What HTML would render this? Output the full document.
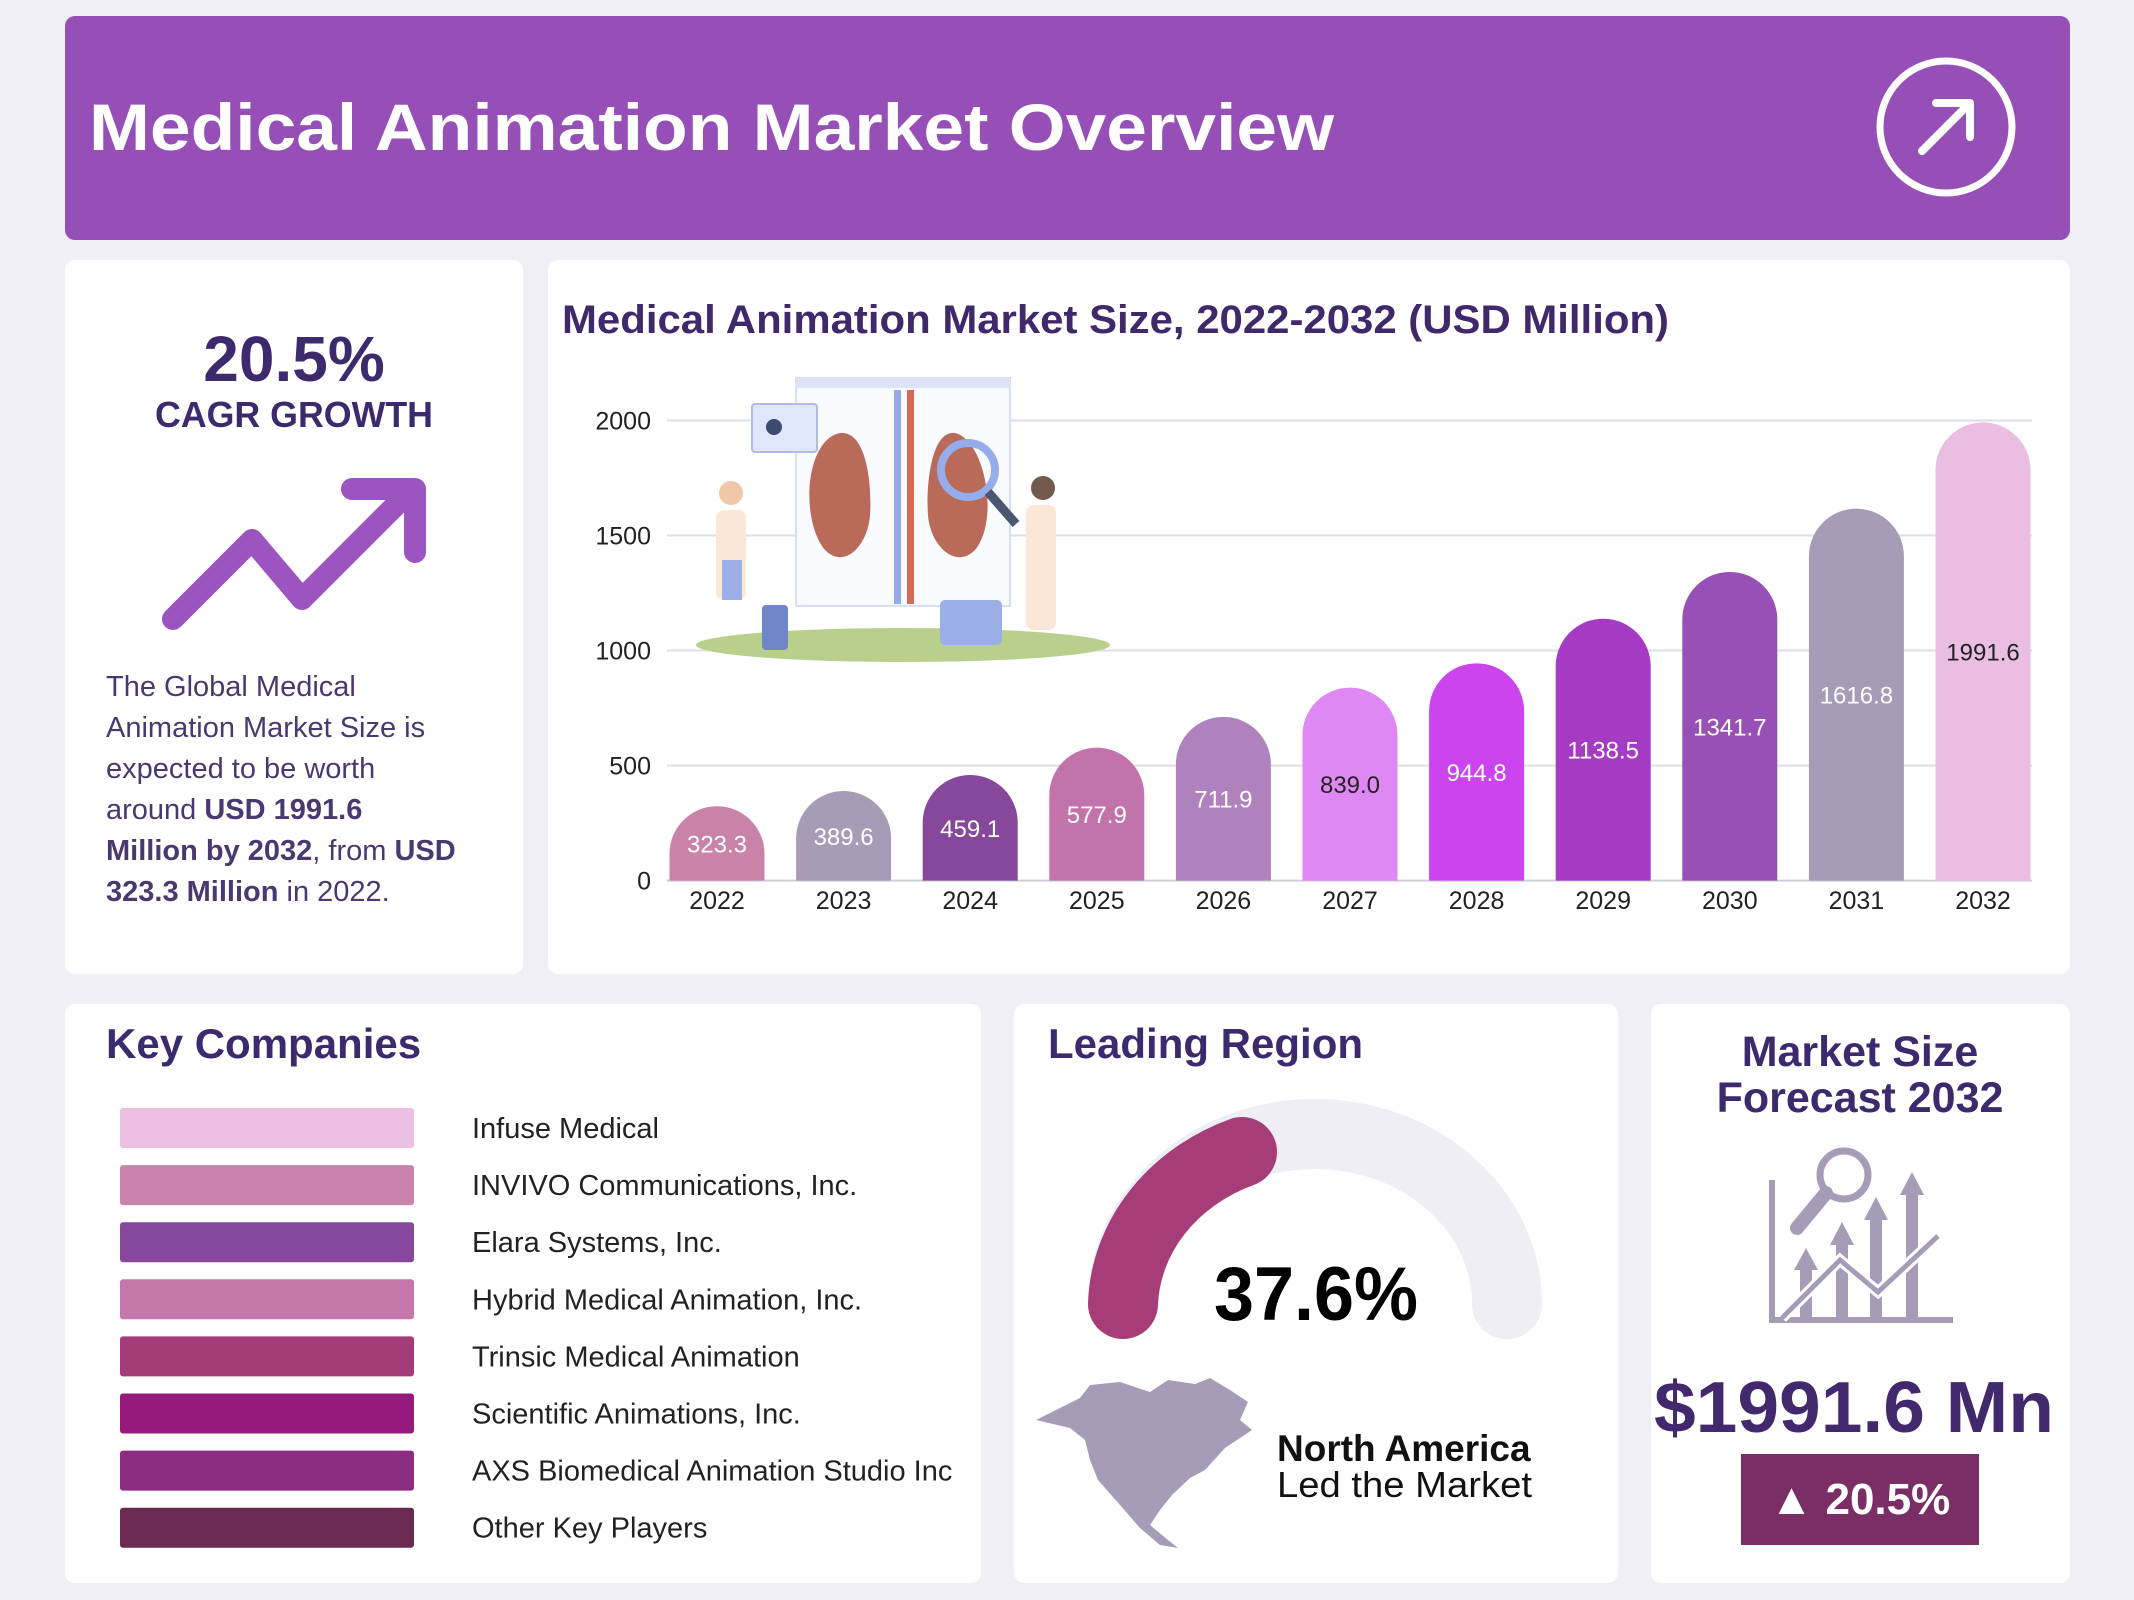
<!DOCTYPE html>
<html><head><meta charset="utf-8"><style>
html,body{margin:0;padding:0;background:#f0eff5;}
svg{display:block;font-family:"Liberation Sans",sans-serif;}
</style></head><body>
<svg id="page" width="2134" height="1600" viewBox="0 0 2134 1600">
<rect x="0" y="0" width="2134" height="1600" fill="#f0eff5"/>
<!-- header -->
<rect x="65" y="16" width="2005" height="224" rx="10" fill="#954fb6"/>
<text x="89" y="150" font-size="66" font-weight="bold" fill="#fff" textLength="1245" lengthAdjust="spacingAndGlyphs">Medical Animation Market Overview</text>
<g>
<circle cx="1946" cy="127" r="66" fill="none" stroke="#fff" stroke-width="7"/>
<path d="M1922 151 L1970 103 M1936 103 L1970 103 L1970 137" fill="none" stroke="#fff" stroke-width="8" stroke-linecap="round" stroke-linejoin="round"/>
</g>
<!-- panels -->
<rect x="65" y="260" width="458" height="714" rx="10" fill="#fff"/>
<rect x="548" y="260" width="1522" height="714" rx="10" fill="#fff"/>
<rect x="65" y="1004" width="916" height="579" rx="10" fill="#fff"/>
<rect x="1014" y="1004" width="604" height="579" rx="10" fill="#fff"/>
<rect x="1651" y="1004" width="419" height="579" rx="10" fill="#fff"/>

<!-- CAGR panel -->
<text x="294" y="381" font-size="64" font-weight="bold" fill="#3d2a6e" text-anchor="middle">20.5%</text>
<text x="294" y="427" font-size="36" font-weight="bold" fill="#3d2a6e" text-anchor="middle" textLength="278" lengthAdjust="spacingAndGlyphs">CAGR GROWTH</text>
<g>
<polyline points="173,619 252,540 302,599 410,491" fill="none" stroke="#9b54c0" stroke-width="22" stroke-linecap="round" stroke-linejoin="round"/>
<path d="M352 489 L415 489 L415 552" fill="none" stroke="#9b54c0" stroke-width="22" stroke-linejoin="round" stroke-linecap="round"/>
</g>
<g font-size="29" fill="#4a3870">
<text x="106" y="696">The Global Medical</text>
<text x="106" y="737">Animation Market Size is</text>
<text x="106" y="778">expected to be worth</text>
<text x="106" y="819">around <tspan font-weight="bold">USD 1991.6</tspan></text>
<text x="106" y="860"><tspan font-weight="bold">Million by 2032</tspan>, from <tspan font-weight="bold">USD</tspan></text>
<text x="106" y="901"><tspan font-weight="bold">323.3 Million</tspan> in 2022.</text>
</g>

<!-- chart -->
<text x="562" y="333" font-size="40" font-weight="bold" fill="#40296b" textLength="1107" lengthAdjust="spacingAndGlyphs">Medical Animation Market Size, 2022-2032 (USD Million)</text>
<g id="grid"></g>
<g id="illus">
<ellipse cx="903" cy="645" rx="207" ry="17" fill="#b9d08c"/>
<rect x="796" y="378" width="214" height="228" fill="#fafbff" stroke="#d8def3" stroke-width="2"/>
<rect x="796" y="378" width="214" height="10" fill="#dde3f6"/>
<rect x="752" y="404" width="65" height="48" rx="3" fill="#dfe6fa" stroke="#aebce8" stroke-width="2"/>
<circle cx="774" cy="427" r="8" fill="#3c4a70"/>
<rect x="894" y="390" width="7" height="214" fill="#94a9e8"/>
<rect x="907" y="390" width="7" height="214" fill="#d66b55"/>
<path d="M840 433 C805 440 800 520 825 550 C845 570 868 545 870 515 C872 490 868 430 840 433Z" fill="#b96a58"/>
<path d="M955 433 C985 440 1000 520 975 550 C955 570 930 545 928 515 C926 490 930 430 955 433Z" fill="#b96a58"/>
<circle cx="968" cy="470" r="27" fill="none" stroke="#97acea" stroke-width="8"/>
<line x1="988" y1="492" x2="1016" y2="524" stroke="#4b5670" stroke-width="9"/>
<rect x="716" y="510" width="30" height="90" rx="8" fill="#fbe6d8"/>
<circle cx="731" cy="493" r="12" fill="#f2c7a8"/>
<rect x="722" y="560" width="20" height="40" fill="#9caee6"/>
<rect x="1026" y="505" width="30" height="125" rx="8" fill="#fbe6d8"/>
<circle cx="1043" cy="488" r="12" fill="#735a4c"/>
<rect x="762" y="605" width="26" height="45" rx="4" fill="#6f86c9"/>
<rect x="940" y="600" width="62" height="45" rx="5" fill="#9caee6"/>
</g>
<g id="bars"></g>
<g id="xlabels"></g>

<!-- Key companies -->
<text x="106" y="1058" font-size="42" font-weight="bold" fill="#3d2a6e">Key Companies</text>
<g id="companies"></g>

<!-- Leading region -->
<text x="1048" y="1058" font-size="42" font-weight="bold" fill="#3d2a6e">Leading Region</text>
<path d="M1123 1304 A192 170 0 0 1 1507 1304" fill="none" stroke="#efeef4" stroke-width="70" stroke-linecap="round"/>
<path d="M1123 1304 A192 170 0 0 1 1242 1152" fill="none" stroke="#a63c78" stroke-width="70" stroke-linecap="round"/>
<text x="1316" y="1320" font-size="76" font-weight="bold" fill="#000" text-anchor="middle" textLength="204" lengthAdjust="spacingAndGlyphs">37.6%</text>
<path d="M1036 1420 L1080 1398 L1090 1385 L1120 1382 L1150 1392 L1168 1380 L1195 1384 L1210 1378 L1230 1390 L1248 1402 L1240 1420 L1252 1430 L1225 1448 L1205 1470 L1190 1478 L1172 1495 L1160 1510 L1150 1525 L1168 1540 L1178 1548 L1160 1545 L1140 1528 L1120 1505 L1098 1480 L1090 1460 L1085 1440 L1070 1428 Z" fill="#a79cb7"/>
<text x="1277" y="1461" font-size="37" font-weight="bold" fill="#111">North America</text>
<text x="1277" y="1497" font-size="36" fill="#111" textLength="255" lengthAdjust="spacingAndGlyphs">Led the Market</text>

<!-- Forecast -->
<text x="1860" y="1066" font-size="43" font-weight="bold" fill="#3d2a6e" text-anchor="middle">Market Size</text>
<text x="1860" y="1112" font-size="43" font-weight="bold" fill="#3d2a6e" text-anchor="middle">Forecast 2032</text>
<g fill="#a79cb7" stroke="#a79cb7">
<path d="M1772 1180 L1772 1320 L1953 1320" fill="none" stroke-width="6"/>
<circle cx="1844" cy="1175" r="24" fill="none" stroke-width="7"/>
<line x1="1826" y1="1193" x2="1797" y2="1228" stroke-width="14" stroke-linecap="round"/>
<rect x="1800" y="1265" width="12" height="55" stroke="none"/><polygon points="1794,1270 1806,1248 1818,1270" stroke="none"/>
<rect x="1836" y="1240" width="12" height="80" stroke="none"/><polygon points="1830,1245 1842,1222 1854,1245" stroke="none"/>
<rect x="1870" y="1215" width="12" height="105" stroke="none"/><polygon points="1864,1220 1876,1197 1888,1220" stroke="none"/>
<rect x="1906" y="1190" width="12" height="130" stroke="none"/><polygon points="1900,1195 1912,1172 1924,1195" stroke="none"/>
<polyline points="1782,1318 1840,1260 1878,1292 1938,1236" fill="none" stroke="#fff" stroke-width="11"/>
<polyline points="1782,1318 1840,1260 1878,1292 1938,1236" fill="none" stroke-width="5"/>
</g>
<text x="1854" y="1432" font-size="72" font-weight="bold" fill="#42296e" text-anchor="middle" textLength="400" lengthAdjust="spacingAndGlyphs">$1991.6 Mn</text>
<rect x="1741" y="1454" width="238" height="91" fill="#7b2d66"/>
<text x="1860" y="1514" font-size="44" font-weight="bold" fill="#fff" text-anchor="middle">▲ 20.5%</text>
</svg>
<script>
const years = ["2022","2023","2024","2025","2026","2027","2028","2029","2030","2031","2032"];
const values = [323.3,389.6,459.1,577.9,711.9,839.0,944.8,1138.5,1341.7,1616.8,1991.6];
const valueLabels = ["323.3","389.6","459.1","577.9","711.9","839.0","944.8","1138.5","1341.7","1616.8","1991.6"];
const barColors = ["#c983a9","#a89bb6","#87479a","#c273aa","#af82bd","#df88f4","#cb44ee","#a63bc3","#9750b6","#a79cb7","#eabee2"];
const labelColors = ["#fff","#fff","#fff","#fff","#fff","#222","#fff","#fff","#fff","#fff","#222"];
const yTicks = [0,500,1000,1500,2000];
const companies = ["Infuse Medical","INVIVO Communications, Inc.","Elara Systems, Inc.","Hybrid Medical Animation, Inc.","Trinsic Medical Animation","Scientific Animations, Inc.","AXS Biomedical Animation Studio Inc","Other Key Players"];
const companyColors = ["#ebc0e4","#c983ad","#87479a","#c576ab","#a33c78","#951a7c","#8b2c80","#6a2a52"];

const NS="http://www.w3.org/2000/svg";
const y0=880.6, y1=420.5, vmax=2000;
function yScale(v){return y0-(v/vmax)*(y0-y1);}
const xStart=717, xStep=126.6, bw=95;
function xScale(i){return xStart+i*xStep;}
function mk(tag,attrs,parent){const e=document.createElementNS(NS,tag);for(const k in attrs)e.setAttribute(k,attrs[k]);parent.appendChild(e);return e;}

const grid=document.getElementById('grid');
yTicks.forEach(t=>{
  const l=mk('line',{x1:667,x2:2032,y1:yScale(t),y2:yScale(t),stroke:t===0?'#cfcfd6':'#dedee4','stroke-width':2},grid);
  
  
  const tx=mk('text',{x:651,y:yScale(t)+9,'font-size':25,'text-anchor':'end',fill:'#222'},grid);
  tx.textContent=t;
  
  
});
const bars=document.getElementById('bars');
values.forEach((v,i)=>{
  const cx=xScale(i), top=yScale(v), r=bw/2, x=cx-r;
  const d=`M${x} ${y0} L${x} ${top+r} A${r} ${r} 0 0 1 ${x+bw} ${top+r} L${x+bw} ${y0} Z`;
  const p=mk('path',{d:d,fill:barColors[i]},bars);
  
  
  const t=mk('text',{x:cx,y:(top+y0)/2+9,'font-size':24,'text-anchor':'middle',fill:labelColors[i]},bars);
  t.textContent=valueLabels[i];
  
  
});
const xl=document.getElementById('xlabels');
years.forEach((yr,i)=>{
  const t=mk('text',{x:xScale(i),y:909,'font-size':25,'text-anchor':'middle',fill:'#222'},xl);
  t.textContent=yr;
  
  
});
const cg=document.getElementById('companies');
companies.forEach((c,i)=>{
  const cy=1128+i*57.1;
  const r=mk('rect',{x:120,y:cy-20,width:294,height:40,rx:3,fill:companyColors[i]},cg);
  
  
  const t=mk('text',{x:472,y:cy+10,'font-size':29,fill:'#222'},cg);
  t.textContent=c;
  
  
});
</script>
</body></html>
